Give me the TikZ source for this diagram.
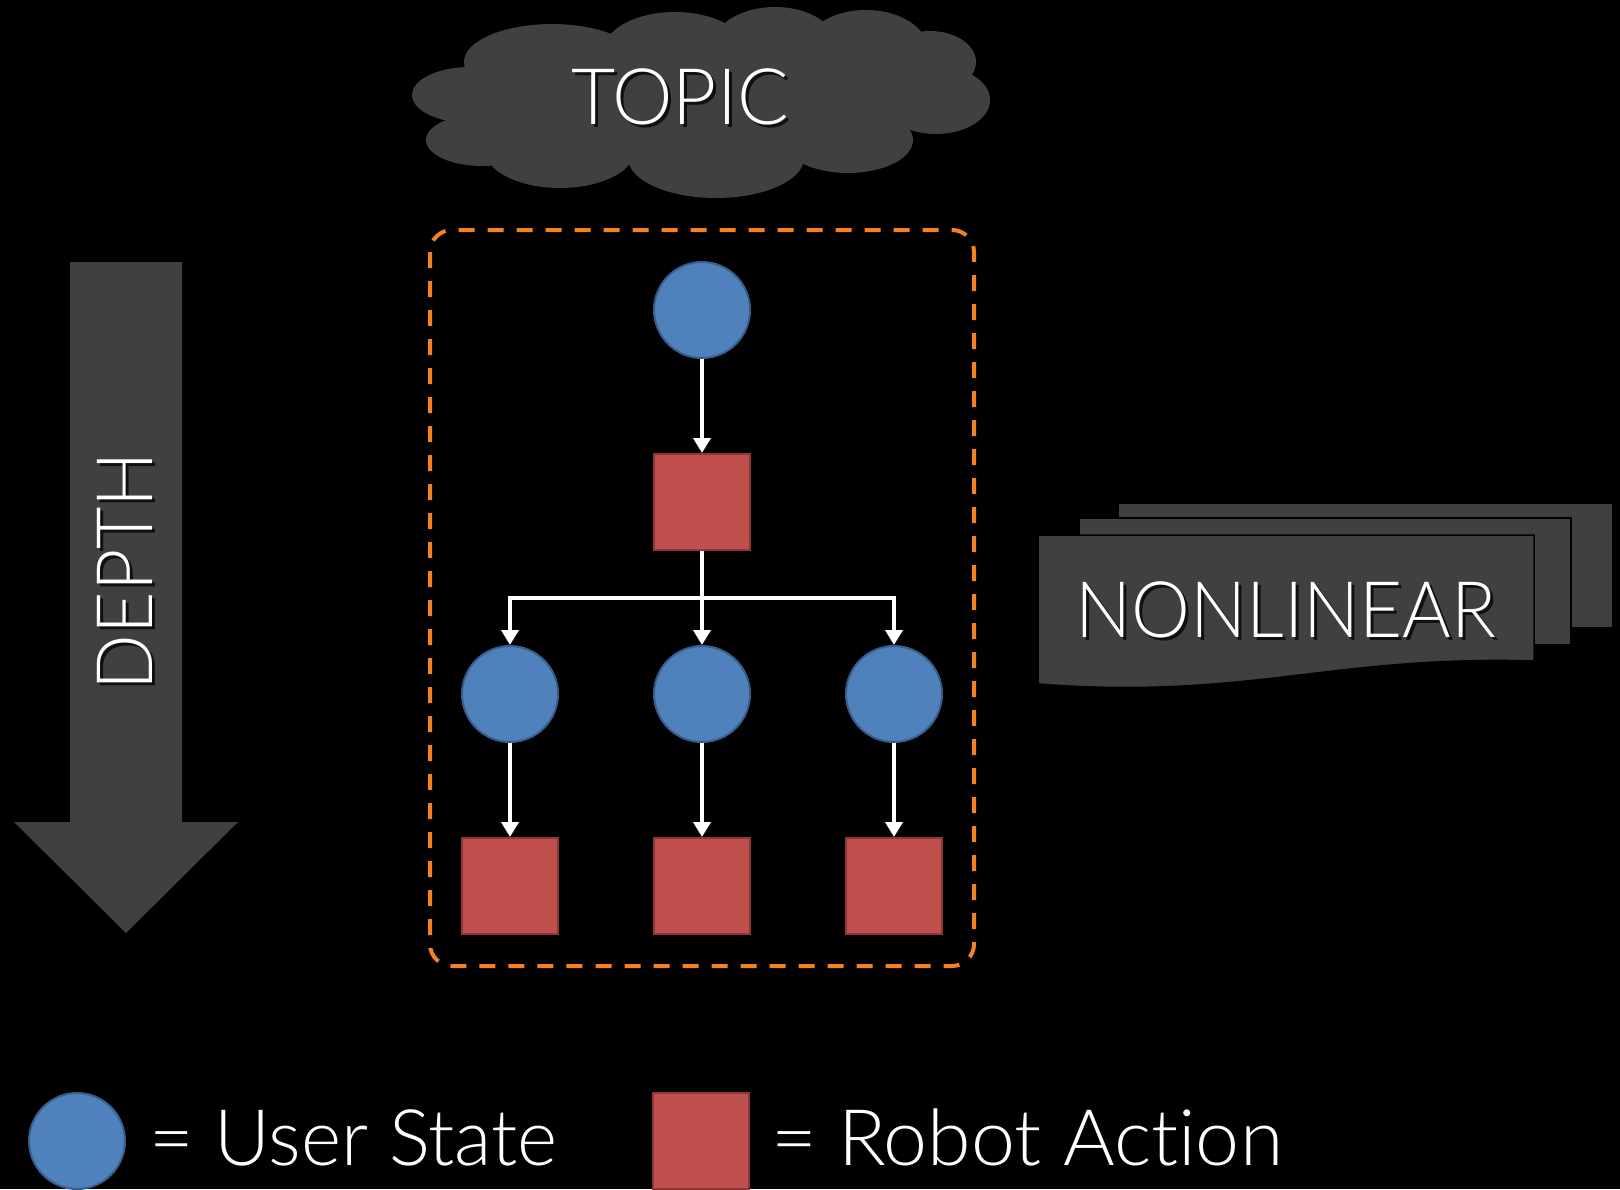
\documentclass[tikz,border=0pt]{standalone}
\usepackage{fontspec}
\newfontfamily\lightfont{Lato Light}[Ligatures=NoCommon]
\usetikzlibrary{arrows.meta}
\definecolor{stateblue}{HTML}{4F81BD}
\definecolor{stateedge}{HTML}{385D8A}
\definecolor{actred}{HTML}{C0504D}
\definecolor{actedge}{HTML}{8C3836}
\definecolor{panelgray}{HTML}{404040}
\definecolor{frameorange}{HTML}{F5821F}
\begin{document}
\begin{tikzpicture}[x=1pt,y=-1pt,
  userstate/.style={circle, fill=stateblue, draw=stateedge, line width=2pt, minimum size=96pt, inner sep=0pt},
  robotaction/.style={rectangle, fill=actred, draw=actedge, line width=2pt, minimum size=96pt, inner sep=0pt},
  flow/.style={draw=white, line width=4pt, -{Triangle[width=17pt,length=15pt]}},
  plainflow/.style={draw=white, line width=4pt},
  bigtext/.style={font=\lightfont\fontsize{78}{90}\selectfont, text=white, inner sep=0pt},
  shadowtext/.style={font=\lightfont\fontsize{78}{90}\selectfont, text=black, opacity=0.75, inner sep=0pt},
  legendtext/.style={font=\lightfont\fontsize{78}{90}\selectfont, text=white, inner sep=0pt},
  panel/.style={fill=panelgray},
  framebox/.style={draw=frameorange, line width=4pt, dash pattern=on 16pt off 13pt, rounded corners=22pt}
]
\fill[black] (0,0) rectangle (1620,1189);
\useasboundingbox (0,0) rectangle (1620,1189);

% cloud
\begin{scope}[panel]
\fill (470,95) ellipse [x radius=58, y radius=28];
\fill (482,140) ellipse [x radius=56, y radius=26];
\fill (552,62) ellipse [x radius=88, y radius=38];
\fill (675,52) ellipse [x radius=72, y radius=40];
\fill (775,46) ellipse [x radius=62, y radius=39];
\fill (866,50) ellipse [x radius=62, y radius=40];
\fill (930,62) ellipse [x radius=46, y radius=31];
\fill (936,100) ellipse [x radius=54, y radius=34];
\fill (848,140) ellipse [x radius=65, y radius=33];
\fill (716,158) ellipse [x radius=88, y radius=40];
\fill (560,150) ellipse [x radius=75, y radius=38];
\fill (700,100) ellipse [x radius=230, y radius=62];
\end{scope}
\node[shadowtext, anchor=base] (topicsh) at (683,127) {\scalebox{0.98}[1]{TOPIC}};
\node[bigtext, anchor=base] (topic) at (680,124) {\scalebox{0.98}[1]{TOPIC}};

% depth arrow
\fill[panel] (70,262) -- (182,262) -- (182,822) -- (238,822) -- (126,933) -- (14,822) -- (70,822) -- cycle;
\node[shadowtext, anchor=base, rotate=90] (depthsh) at (155,574) {\scalebox{0.94}[1]{DEPTH}};
\node[bigtext, anchor=base, rotate=90] (depth) at (152,571) {\scalebox{0.94}[1]{DEPTH}};

% nonlinear multi-document
\draw[panel, draw=black, line width=1.5pt] (1118,503) rectangle (1613,628);
\draw[panel, draw=black, line width=1.5pt] (1079,518) rectangle (1571,645);
\draw[panel, draw=black, line width=1.5pt] (1038,535) -- (1534,535) -- (1534,661)
  .. controls (1330,655) and (1250,700) .. (1038,684) -- cycle;
\node[shadowtext, anchor=base] (nonlinsh) at (1289,640) {\scalebox{0.953}[1]{NONLINEAR}};
\node[bigtext, anchor=base] (nonlin) at (1286,637) {\scalebox{0.953}[1]{NONLINEAR}};

% dashed frame
\draw[framebox] (430,230) rectangle (974,966);

% tree
\node[userstate] (s0) at (702,310) {};
\node[robotaction] (a0) at (702,502) {};
\node[userstate] (s1) at (510,694) {};
\node[userstate] (s2) at (702,694) {};
\node[userstate] (s3) at (894,694) {};
\node[robotaction] (a1) at (510,886) {};
\node[robotaction] (a2) at (702,886) {};
\node[robotaction] (a3) at (894,886) {};
\coordinate (br) at (702,598);

\draw[flow] (s0) -- (a0);
\draw[plainflow] (a0.south) -- (br);
\draw[flow] (br) -- (s2.north);
\draw[flow] (br) -| (s1.north);
\draw[flow] (br) -| (s3.north);
\draw[flow] (s1) -- (a1);
\draw[flow] (s2) -- (a2);
\draw[flow] (s3) -- (a3);

% legend
\node[userstate] (legstate) at (77,1141) {};
\node[legendtext, anchor=base west] (legstatetext) at (149,1165) {\scalebox{0.985}[1]{= User State}};
\node[robotaction] (legaction) at (701,1141) {};
\node[legendtext, anchor=base west] (legactiontext) at (771,1165) {\scalebox{1.012}[1]{= Robot Action}};
\end{tikzpicture}
\end{document}
